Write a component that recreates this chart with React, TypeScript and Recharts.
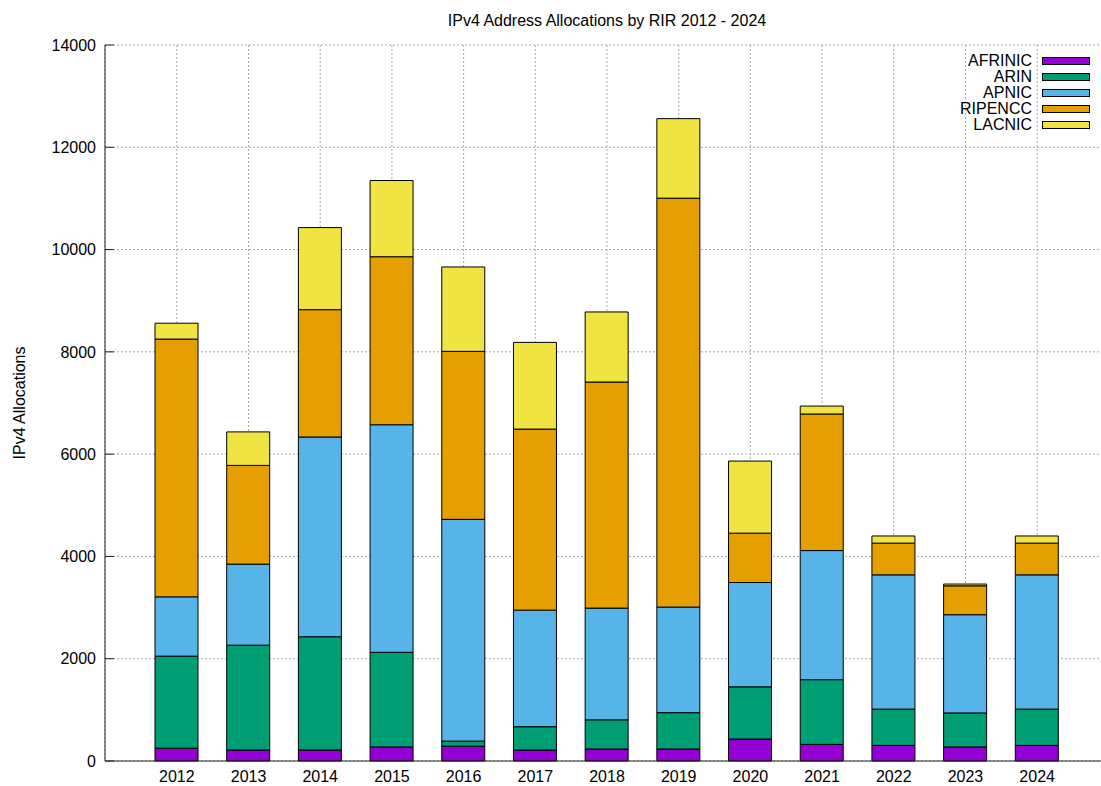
import React from 'react';
import { BarChart, Bar, XAxis, YAxis, CartesianGrid } from 'recharts';

const years = ['2012', '2013', '2014', '2015', '2016', '2017', '2018', '2019', '2020', '2021', '2022', '2023', '2024'];
const afrinic = [250, 215, 215, 275, 290, 215, 235, 235, 430, 325, 305, 275, 305];
const arin = [1800, 2050, 2215, 1850, 100, 455, 570, 710, 1020, 1265, 710, 665, 710];
const apnic = [1160, 1585, 3905, 4450, 4335, 2280, 2185, 2065, 2040, 2525, 2625, 1920, 2625];
const ripencc = [5040, 1930, 2490, 3285, 3285, 3540, 4420, 7995, 965, 2670, 620, 565, 620];
const lacnic = [310, 655, 1605, 1490, 1650, 1695, 1370, 1555, 1410, 155, 140, 35, 140];
const yTicks = [0, 2000, 4000, 6000, 8000, 10000, 12000, 14000];

const series = [
  { key: 'AFRINIC', values: afrinic, color: '#9400D3' },
  { key: 'ARIN', values: arin, color: '#009E73' },
  { key: 'APNIC', values: apnic, color: '#56B4E9' },
  { key: 'RIPENCC', values: ripencc, color: '#E69F00' },
  { key: 'LACNIC', values: lacnic, color: '#F0E442' },
];

const data = years.map((year, i) => {
  const row: Record<string, string | number> = { year };
  series.forEach((s) => {
    row[s.key] = s.values[i];
  });
  return row;
});

const FONT = '"Liberation Sans", Arial, Helvetica, sans-serif';

const YLabel = (props: any) => {
  const vb = props.viewBox || { x: 0, y: 45, width: 105, height: 716 };
  const cx = vb.x + 19;
  const cy = vb.y + vb.height / 2;
  return (
    <text
      x={cx}
      y={cy}
      transform={`rotate(-90 ${cx} ${cy})`}
      textAnchor="middle"
      dominantBaseline="central"
      fontSize={16}
      fill="#000"
      fontFamily={FONT}
    >
      IPv4 Allocations
    </text>
  );
};

export default function App() {
  return (
    <div
      style={{
        position: 'absolute',
        left: 0,
        top: 0,
        width: 1101,
        height: 786,
        overflow: 'hidden',
        background: '#fff',
        fontFamily: FONT,
      }}
    >
      <div
        style={{
          position: 'absolute',
          left: 105,
          width: 1004,
          top: 13,
          textAlign: 'center',
          fontSize: 16,
          lineHeight: '16px',
          color: '#000',
        }}
      >
        IPv4 Address Allocations by RIR 2012 - 2024
      </div>
      <BarChart
        width={1115}
        height={786}
        data={data}
        margin={{ top: 45, right: 6, left: 0, bottom: 0 }}
        barSize={43}
        style={{ fontFamily: FONT }}
      >
        <CartesianGrid stroke="#aaa" strokeDasharray="2 2" />
        <XAxis
          dataKey="year"
          height={25}
          interval={0}
          padding={{ left: 36, right: 36 }}
          tickLine={false}
          tickSize={-9}
          tickMargin={19}
          tick={{ fontSize: 16, fill: '#000' }}
          axisLine={{ stroke: '#222' }}
        />
        <XAxis
          dataKey="year"
          xAxisId="top"
          orientation="top"
          height={0}
          interval={0}
          padding={{ left: 36, right: 36 }}
          tick={false}
          tickSize={-8}
          tickLine={{ stroke: '#222' }}
          axisLine={{ stroke: '#222' }}
        />
        <YAxis
          width={105}
          domain={[0, 14000]}
          ticks={yTicks}
          interval={0}
          tickSize={-9}
          tickMargin={18}
          tick={{ fontSize: 16, fill: '#000' }}
          tickLine={{ stroke: '#222' }}
          axisLine={{ stroke: '#222' }}
          label={{ content: (p: any) => <YLabel {...p} /> }}
        />
        {series.map((s) => (
          <Bar
            key={s.key}
            dataKey={s.key}
            stackId="rir"
            fill={s.color}
            stroke="#000"
            strokeWidth={1}
            isAnimationActive={false}
          />
        ))}
      </BarChart>
      <div style={{ position: 'absolute', left: 900, top: 53, width: 190 }}>
        {series.map((s) => (
          <div
            key={s.key}
            style={{
              display: 'flex',
              alignItems: 'center',
              justifyContent: 'flex-end',
              height: 15.9,
              fontSize: 16,
              lineHeight: '16px',
              color: '#000',
            }}
          >
            <span style={{ marginRight: 10 }}>{s.key}</span>
            <span
              style={{
                display: 'inline-block',
                width: 46,
                height: 6,
                background: s.color,
                border: '1px solid #000',
              }}
            />
          </div>
        ))}
      </div>
    </div>
  );
}
